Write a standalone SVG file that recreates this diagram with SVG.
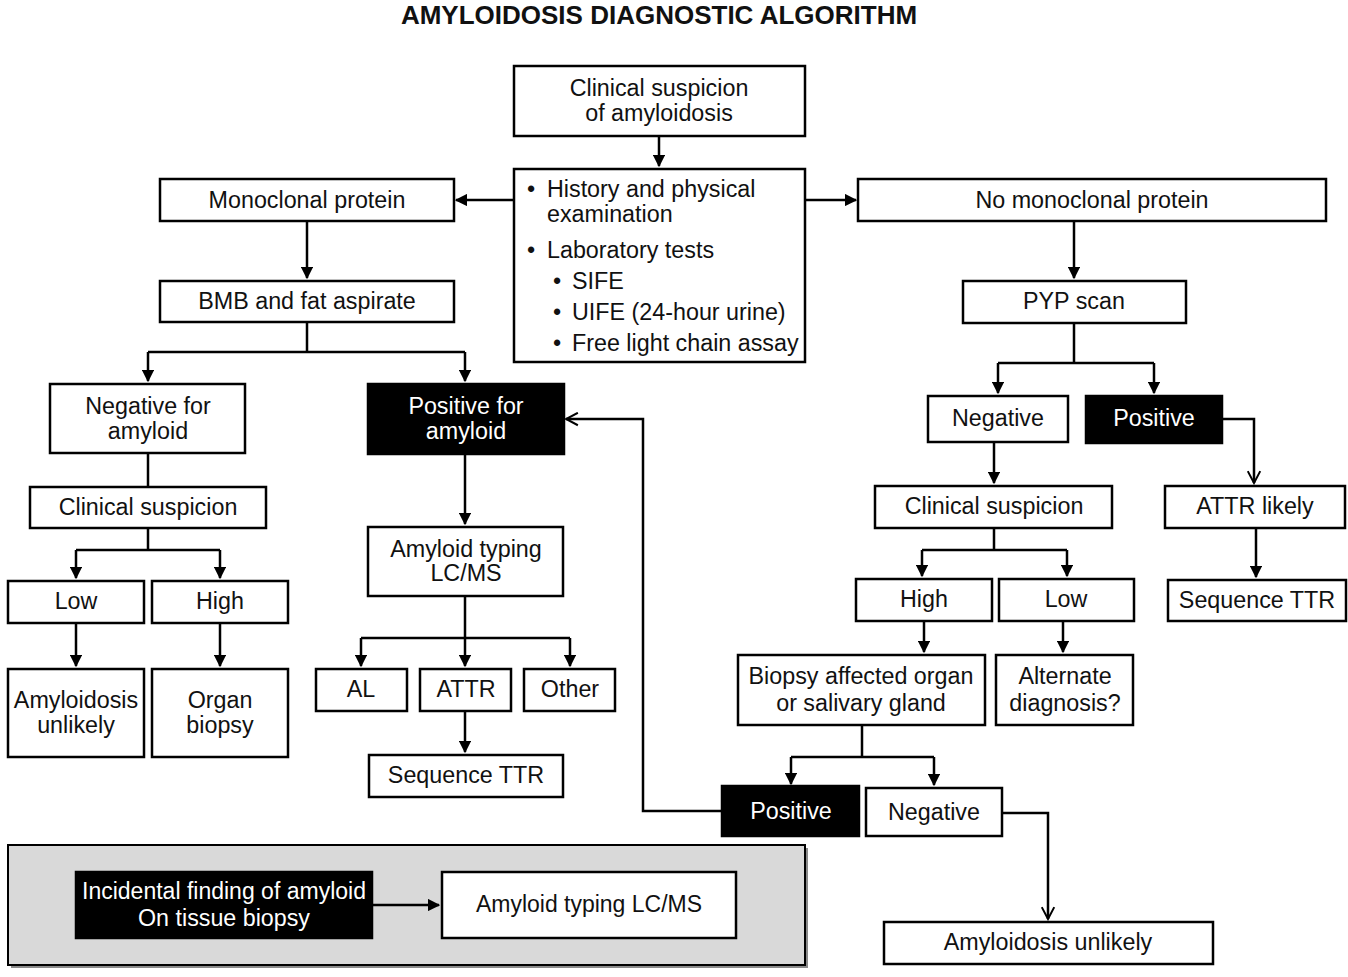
<svg xmlns="http://www.w3.org/2000/svg" width="1348" height="977" viewBox="0 0 1348 977">
<defs>
<style>
.b{fill:#fff;stroke:#000;stroke-width:2.5}
.k{fill:#000;stroke:#000;stroke-width:2.5}
.t{font-family:"Liberation Sans",Arial,sans-serif;font-size:23.3px;fill:#111;text-anchor:middle}
.tw{font-family:"Liberation Sans",Arial,sans-serif;font-size:23.3px;fill:#fff;text-anchor:middle}
.tl{font-family:"Liberation Sans",Arial,sans-serif;font-size:23.3px;fill:#111}
.c{fill:none;stroke:#000;stroke-width:2.5}
.a{marker-end:url(#ar)}
.o{marker-end:url(#ao)}
</style>
<marker id="ar" viewBox="0 0 10 10" refX="9" refY="5" markerWidth="5" markerHeight="5" markerUnits="strokeWidth" orient="auto">
<path d="M0,0 L10,5 L0,10 z" fill="#000"/>
</marker>
<marker id="ao" viewBox="0 0 12 12" refX="10.5" refY="6" markerWidth="6" markerHeight="6" markerUnits="strokeWidth" orient="auto">
<path d="M1,1 L10.5,6 L1,11" fill="none" stroke="#000" stroke-width="1.6"/>
</marker>
</defs>
<rect width="1348" height="977" fill="#fff"/>
<text x="659" y="24" font-family="Liberation Sans,Arial,sans-serif" font-size="26" font-weight="bold" text-anchor="middle" fill="#111">AMYLOIDOSIS DIAGNOSTIC ALGORITHM</text>

<g id="panel">
<rect x="11" y="848" width="797" height="120" fill="#8a8a8a"/>
<rect x="8" y="845" width="797" height="120" fill="#d9d9d9" stroke="#000" stroke-width="2"/>
</g>

<g id="connectors">
<path class="c a" d="M659,136 V166"/>
<path class="c a" d="M514,200 H456"/>
<path class="c a" d="M805,200 H856"/>
<path class="c a" d="M307,221 V278"/>
<path class="c" d="M307,322 V352 M148,352 H465"/>
<path class="c a" d="M148,352 V381"/>
<path class="c a" d="M465,352 V381"/>
<path class="c" d="M148,453 V487"/>
<path class="c" d="M148,528 V550 M76,550 H220"/>
<path class="c a" d="M76,550 V578"/>
<path class="c a" d="M220,550 V578"/>
<path class="c a" d="M76,623 V666"/>
<path class="c a" d="M220,623 V666"/>
<path class="c a" d="M465,454 V524"/>
<path class="c" d="M465,596 V638 M361,638 H570"/>
<path class="c a" d="M361,638 V666"/>
<path class="c a" d="M465,638 V666"/>
<path class="c a" d="M570,638 V666"/>
<path class="c a" d="M465,711 V752"/>
<path class="c a" d="M1074,221 V278"/>
<path class="c" d="M1074,323 V363 M998,363 H1154"/>
<path class="c a" d="M998,363 V393"/>
<path class="c a" d="M1154,363 V393"/>
<path class="c o" d="M1222,419 H1254 V483"/>
<path class="c a" d="M994,442 V483"/>
<path class="c a" d="M1256,528 V577"/>
<path class="c" d="M994,528 V550 M922,550 H1067"/>
<path class="c a" d="M922,550 V576"/>
<path class="c a" d="M1067,550 V576"/>
<path class="c a" d="M924,621 V652"/>
<path class="c a" d="M1063,621 V652"/>
<path class="c" d="M862,725 V757 M791,757 H934"/>
<path class="c a" d="M791,757 V784"/>
<path class="c a" d="M934,757 V785"/>
<path class="c o" d="M722,811 H643 V419 H566"/>
<path class="c o" d="M1002,813 H1048 V919"/>
<path class="c a" d="M372,905 H439"/>
</g>

<g id="n-clinical">
<rect class="b" x="514" y="66" width="291" height="70"/>
<text class="t" x="659" y="96">Clinical suspicion</text>
<text class="t" x="659" y="121">of amyloidosis</text>
</g>
<g id="n-history">
<rect class="b" x="514" y="169" width="291" height="193"/>
<text class="tl" x="527" y="197">•</text>
<text class="tl" x="547" y="197">History and physical</text>
<text class="tl" x="547" y="222">examination</text>
<text class="tl" x="527" y="258">•</text>
<text class="tl" x="547" y="258">Laboratory tests</text>
<text class="tl" x="553" y="289">•</text>
<text class="tl" x="572" y="289">SIFE</text>
<text class="tl" x="553" y="320">•</text>
<text class="tl" x="572" y="320">UIFE (24-hour urine)</text>
<text class="tl" x="553" y="351">•</text>
<text class="tl" x="572" y="351">Free light chain assay</text>
</g>
<g id="n-mono">
<rect class="b" x="160" y="179" width="294" height="42"/>
<text class="t" x="307" y="208">Monoclonal protein</text>
</g>
<g id="n-nomono">
<rect class="b" x="858" y="179" width="468" height="42"/>
<text class="t" x="1092" y="208">No monoclonal protein</text>
</g>
<g id="n-bmb">
<rect class="b" x="160" y="281" width="294" height="41"/>
<text class="t" x="307" y="309">BMB and fat aspirate</text>
</g>
<g id="n-negamy">
<rect class="b" x="50" y="384" width="195" height="69"/>
<text class="t" x="148" y="414">Negative for</text>
<text class="t" x="148" y="439">amyloid</text>
</g>
<g id="n-posamy">
<rect class="k" x="368" y="384" width="196" height="70"/>
<text class="tw" x="466" y="414">Positive for</text>
<text class="tw" x="466" y="439">amyloid</text>
</g>
<g id="n-clinl">
<rect class="b" x="30" y="487" width="236" height="41"/>
<text class="t" x="148" y="515">Clinical suspicion</text>
</g>
<g id="n-lowl">
<rect class="b" x="8" y="581" width="136" height="42"/>
<text class="t" x="76" y="609">Low</text>
</g>
<g id="n-highl">
<rect class="b" x="152" y="581" width="136" height="42"/>
<text class="t" x="220" y="609">High</text>
</g>
<g id="n-unlikelyl">
<rect class="b" x="8" y="669" width="136" height="88"/>
<text class="t" x="76" y="708">Amyloidosis</text>
<text class="t" x="76" y="733">unlikely</text>
</g>
<g id="n-organ">
<rect class="b" x="152" y="669" width="136" height="88"/>
<text class="t" x="220" y="708">Organ</text>
<text class="t" x="220" y="733">biopsy</text>
</g>
<g id="n-typing">
<rect class="b" x="368" y="527" width="195" height="69"/>
<text class="t" x="466" y="557">Amyloid typing</text>
<text class="t" x="466" y="581">LC/MS</text>
</g>
<g id="n-al">
<rect class="b" x="316" y="669" width="91" height="42"/>
<text class="t" x="361" y="697">AL</text>
</g>
<g id="n-attr">
<rect class="b" x="420" y="669" width="91" height="42"/>
<text class="t" x="466" y="697">ATTR</text>
</g>
<g id="n-other">
<rect class="b" x="524" y="669" width="91" height="42"/>
<text class="t" x="570" y="697">Other</text>
</g>
<g id="n-seql">
<rect class="b" x="369" y="755" width="194" height="42"/>
<text class="t" x="466" y="783">Sequence TTR</text>
</g>
<g id="n-pyp">
<rect class="b" x="963" y="281" width="223" height="42"/>
<text class="t" x="1074" y="309">PYP scan</text>
</g>
<g id="n-negr">
<rect class="b" x="928" y="396" width="140" height="46"/>
<text class="t" x="998" y="426">Negative</text>
</g>
<g id="n-posr">
<rect class="k" x="1086" y="396" width="136" height="47"/>
<text class="tw" x="1154" y="426">Positive</text>
</g>
<g id="n-clinr">
<rect class="b" x="875" y="486" width="237" height="42"/>
<text class="t" x="994" y="514">Clinical suspicion</text>
</g>
<g id="n-attrlikely">
<rect class="b" x="1165" y="486" width="180" height="42"/>
<text class="t" x="1255" y="514">ATTR likely</text>
</g>
<g id="n-highr">
<rect class="b" x="856" y="579" width="136" height="42"/>
<text class="t" x="924" y="607">High</text>
</g>
<g id="n-lowr">
<rect class="b" x="999" y="579" width="135" height="42"/>
<text class="t" x="1066" y="607">Low</text>
</g>
<g id="n-seqr">
<rect class="b" x="1168" y="580" width="178" height="41"/>
<text class="t" x="1257" y="608">Sequence TTR</text>
</g>
<g id="n-biopsy">
<rect class="b" x="738" y="655" width="247" height="70"/>
<text class="t" x="861" y="684">Biopsy affected organ</text>
<text class="t" x="861" y="711">or salivary gland</text>
</g>
<g id="n-alt">
<rect class="b" x="996" y="655" width="137" height="70"/>
<text class="t" x="1065" y="684">Alternate</text>
<text class="t" x="1065" y="711">diagnosis?</text>
</g>
<g id="n-posb">
<rect class="k" x="722" y="786" width="137" height="50"/>
<text class="tw" x="791" y="819">Positive</text>
</g>
<g id="n-negb">
<rect class="b" x="866" y="788" width="136" height="48"/>
<text class="t" x="934" y="820">Negative</text>
</g>
<g id="n-unlikelyr">
<rect class="b" x="884" y="922" width="329" height="42"/>
<text class="t" x="1048" y="950">Amyloidosis unlikely</text>
</g>
<g id="n-incidental">
<rect class="k" x="76" y="872" width="296" height="66"/>
<text class="tw" x="224" y="899" textLength="284" lengthAdjust="spacingAndGlyphs">Incidental finding of amyloid</text>
<text class="tw" x="224" y="926" textLength="172" lengthAdjust="spacingAndGlyphs">On tissue biopsy</text>
</g>
<g id="n-typing2">
<rect class="b" x="442" y="872" width="294" height="66"/>
<text class="t" x="589" y="912" textLength="226" lengthAdjust="spacingAndGlyphs">Amyloid typing LC/MS</text>
</g>
</svg>
